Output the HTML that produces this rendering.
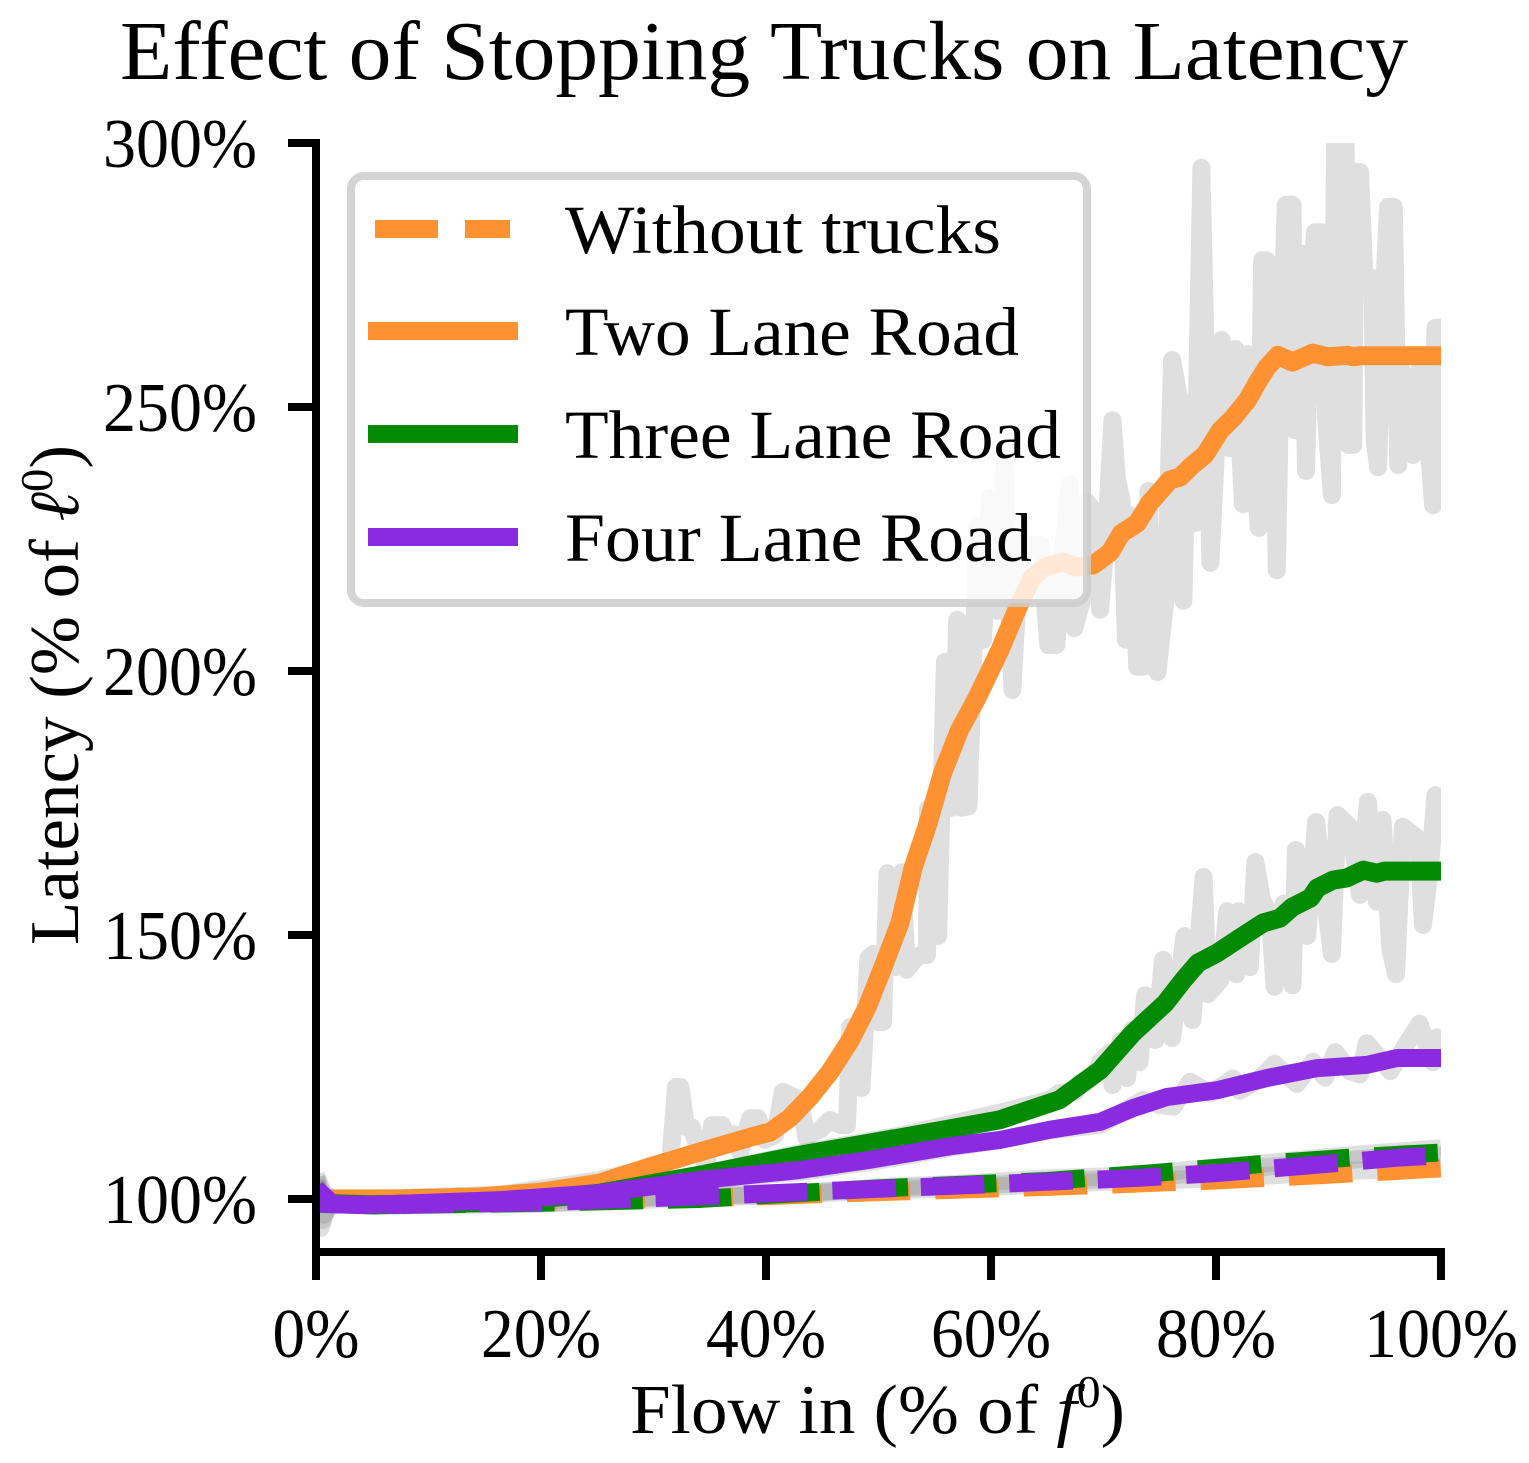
<!DOCTYPE html>
<html lang="en">
<head>
<meta charset="utf-8">
<title>Effect of Stopping Trucks on Latency</title>
<style>
html,body{margin:0;padding:0;background:#fff;}
svg{display:block;font-family:"Liberation Serif",serif;}
text{fill:#000;}
</style>
</head>
<body>
<svg id="chart" xmlns="http://www.w3.org/2000/svg" width="1529" height="1463" viewBox="0 0 1529 1463">
  <defs><clipPath id="plot-clip"><rect x="316" y="143" width="1125" height="1109"/></clipPath></defs>
  <rect x="0" y="0" width="1529" height="1463" fill="#fff"/>
  <text x="120" y="79" font-size="84" textLength="1288" lengthAdjust="spacingAndGlyphs">Effect of Stopping Trucks on Latency</text>
  <g id="raw-layer" clip-path="url(#plot-clip)"></g>
  <g id="mean-layer" clip-path="url(#plot-clip)"></g>
  <g id="axis-layer"></g>
  <text transform="translate(78,945) rotate(-90)" font-size="70" textLength="500" lengthAdjust="spacingAndGlyphs">Latency (% of <tspan font-style="italic">ℓ</tspan><tspan font-size="46" dy="-26">0</tspan><tspan dy="26">)</tspan></text>
  <text x="630" y="1433" font-size="70" textLength="495" lengthAdjust="spacingAndGlyphs">Flow in (% of <tspan font-style="italic">f</tspan><tspan font-size="46" dy="-26">0</tspan><tspan dy="26">)</tspan></text>
  <g>
    <rect x="351" y="176" width="736" height="427" rx="13" ry="13" fill="rgba(255,255,255,0.8)" stroke="rgba(204,204,204,0.85)" stroke-width="8"/>
    <line x1="375" y1="229" x2="510" y2="229" stroke="#fe9232" stroke-width="18" stroke-dasharray="63 27"/>
    <line x1="368" y1="331" x2="518" y2="331" stroke="#fe9232" stroke-width="18"/>
    <line x1="368" y1="434" x2="518" y2="434" stroke="#048b04" stroke-width="18"/>
    <line x1="368" y1="537" x2="518" y2="537" stroke="#8a2be2" stroke-width="18"/>
    <text x="565" y="253" font-size="69" textLength="436" lengthAdjust="spacingAndGlyphs">Without trucks</text>
    <text x="565" y="355" font-size="69" textLength="454" lengthAdjust="spacingAndGlyphs">Two Lane Road</text>
    <text x="565" y="458" font-size="69" textLength="496" lengthAdjust="spacingAndGlyphs">Three Lane Road</text>
    <text x="565" y="561" font-size="69" textLength="467" lengthAdjust="spacingAndGlyphs">Four Lane Road</text>
  </g>
</svg>
<script>
const xTickValues = [0, 20, 40, 60, 80, 100];
const xTickLabels = ["0%", "20%", "40%", "60%", "80%", "100%"];
const yTickValues = [100, 150, 200, 250, 300];
const yTickLabels = ["100%", "150%", "200%", "250%", "300%"];

const twoLaneFlow = [0,7.5,14.6,20,25.2,29.7,34.1,38.6,40.4,42.1,43.9,45.7,47.5,49,50.4,51.9,53.1,54.3,55.7,57.2,58.8,60.8,62.3,63.7,64.8,66.4,67.6,69.1,70.6,71.6,73,74.1,75.9,76.8,77.9,79,80.4,81.5,82.8,83.7,84.5,85.5,86.8,88.6,89.9,91.7,92.2,92.8,100];
const twoLaneLatency = [100,100,100.4,101.3,103,106.1,108.9,111.7,112.7,115.3,119.3,124.1,130.1,136.4,143.9,152.3,162.9,170.5,180.7,188.8,195.1,204,211.6,217.8,219.7,220.6,219.7,220.1,222.5,226.1,228,231.8,236.2,236.7,239,240.9,245.6,247.9,251.3,254.7,257.4,259.8,258.5,260.2,259.5,259.8,259.5,259.7,259.7];
const threeLaneFlow = [0,4.8,16.4,25.2,34.1,43,51.9,60.8,66.1,69.7,72.6,75.5,77.1,78.4,80.1,82.1,84.2,85.7,86.8,88.4,89,90.4,91.6,93.1,94.3,95,100];
const threeLaneLatency = [99.2,98.9,99.4,101.1,104.5,108.3,111.6,115,118.8,124.4,131.4,137.1,141.5,144.7,146.6,149.4,152.3,153.2,155.3,157,158.9,160.4,160.8,162.3,161.7,162.1,162.1];
const fourLaneFlow = [0,1.5,4.8,7.5,16.4,25.2,34.1,43,49.2,56.4,60.8,65.2,69.7,72.6,75.6,80.1,84.5,89,93.4,96.1,100];
const fourLaneLatency = [99.2,99,98.9,99.1,99.8,101.1,103.6,105.5,107.4,110,111.2,113.1,114.6,117.2,119.3,120.6,122.9,124.8,125.4,126.7,126.7];

const baseFlow = [0,1.5,5,20,34,50,65,80,90,100];
const baseLatency = [99.8,99.4,99,99.5,100.1,101.3,102.3,103.5,104.6,105.8];
const threeBaseFlow = [0,1.5,5,20,34,50,65,75,85,93,100];
const threeBaseLatency = [99.5,99.2,98.8,99.3,100,102,103.4,105,106.8,108,108.8];
const fourBaseFlow = [0,1.5,5,20,34,45,60,73,80,88,96,100];
const fourBaseLatency = [102,99,98.8,99.4,100.5,101.5,102.8,104,104.9,106.3,107.8,108.3];

const twoLaneRawFlow = [0,0.4,1.2,2.1,7.5,16.4,25.2,30.6,31.5,32,32.4,32.9,33.4,34,34.7,35.2,36.1,36.6,37.1,37.7,38.6,39.3,39.9,40.8,41.5,42.1,43,43.6,44.1,44.8,45.7,46.6,47.2,47.5,47.9,48.5,49.1,49.5,50,50.4,50.8,51.5,52.1,52.5,53.2,53.7,54.3,54.4,55,55.3,55.9,56.2,56.5,57,57.4,58,58.8,59.3,59.9,60.6,61.2,61.9,62.6,63.5,64.4,65.1,65.8,66.3,67,67.4,68.1,68.5,69.4,69.7,70.2,70.8,71.2,71.6,72,72.4,73,73.5,74,74.3,74.8,75.5,76.1,76.8,77.1,77.5,78.1,78.7,79.5,80.5,81.2,81.7,82.4,82.8,83.8,84.1,84.5,84.8,85.2,85.4,85.7,86,86.2,86.8,87,87.4,87.7,88,88.4,88.8,89.4,89.8,90.3,90.6,91.5,91.8,92.2,92.4,92.8,93.2,93.9,94.1,94.4,94.9,95.3,95.8,96.2,96.5,96.9,97.5,98.1,98.6,99.3,99.5,100];
const twoLaneRawLatency = [103.6,94.5,100.2,100,100.2,100.8,103.6,106.4,107.4,121.2,121.2,113.6,113.6,109.3,106.4,114,114,111.2,112.3,108.9,115.3,115.3,111.2,112.1,120.3,119.7,118.8,111.6,112.5,113.1,115,114,114,132.6,132.6,121,145.6,146.4,133.5,133.5,161.7,143.9,161.9,143.4,145.3,146.2,146.2,173.9,149.8,149.8,201.7,201.7,174.1,209.7,174.1,174.4,227.3,205.9,232.8,211.4,239,196.4,223.9,223.9,223.9,204.9,204.9,221,235.4,208.1,213.4,232,229.5,211.6,224.8,247.5,236.2,232.4,205.9,229.5,200.8,200.8,234.1,202.1,199.8,213.4,258.9,250.6,213.3,250.6,228,295.3,220.5,262.7,242.2,261,231.6,260,227.1,277.8,277.8,274.6,247.5,219.1,251.3,274.6,288.3,288.3,245.6,279,279,237.9,270.3,283.1,283.1,247.5,233.3,304.4,304.4,242.8,242.8,294.5,294.5,274.4,274.4,243.8,238.6,270.3,287.9,287.9,239,257,251.3,240.9,257,251.3,231.4,265,265];
const threeLaneRawFlow = [0,0.6,1.2,2,7.5,16.4,25.2,34.1,43,51.9,61.1,65.2,66.1,67.5,67.9,69.2,69.7,70.6,70.8,71.5,72.1,72.5,73.2,73.7,74.6,75.3,76.1,77.2,77.9,78.9,79.3,80.4,81,81.8,82,83,83.5,84.1,84.8,85.2,86,86.8,87.1,88.1,88.9,89.7,90.3,90.8,91.9,92.8,93.5,94.3,94.8,95.5,96,96.6,98,98.4,99,99.5,100];
const threeLaneRawLatency = [103,96,99.8,99,98.9,99.4,101.1,104.5,108.7,112,116.5,118.8,120.1,120.3,122,123.5,125.9,127.8,121.6,129.9,122.9,132,125.9,138.6,130.1,145.3,130.5,149.8,133.9,161,138.8,141.5,154.5,142.6,154.5,143.9,163.8,156.6,153.8,140.2,155.9,140.5,166.1,149.8,171.4,156.6,146.4,172.7,170.5,157.6,175.2,156.3,171.8,147.2,142.6,170.5,168.2,151.9,162.3,176.5,175.6];
const fourLaneRawFlow = [0,0.8,1.5,7.5,16.4,25.2,34.1,43,49.2,56.4,60.8,65.2,69.7,73.5,75,76.2,77.7,79.5,81.5,82.1,83.7,85.2,87.2,88.6,89.7,90.6,91.9,92.8,93.4,95.5,96.8,98.1,99.3,99.6,100];
const fourLaneRawLatency = [104,100,99.6,98.9,99.8,101.1,103.6,105.1,107,109.7,111.2,113,114,118.8,117.8,117.5,122.2,120,122.8,120.5,122.4,125.6,121.8,126,123,127.8,124.2,123.6,129.5,124.2,128.9,133.2,125.9,130.6,129.7];
const baseRawFlow = [0,0.7,1.5,5,20,34,42,50,58,65,72,80,86,90,95,100];
const baseRawLatency = [104.5,101,100,99,99.8,100.6,100.8,101.6,102.1,102.8,103.4,103.9,104.6,105.3,105.5,106.2];
const threeBaseRawFlow = [0,0.7,1.5,5,20,34,42,50,58,65,72,77,85,90,95,100];
const threeBaseRawLatency = [104,97,99.5,98.8,99.1,100.2,100.8,102.2,103,103.9,104.4,105.4,106.9,108,108.8,109.6];
const fourBaseRawFlow = [0,0.7,1.5,5,20,34,42,50,58,65,72,80,85,90,94,97,100];
const fourBaseRawLatency = [103,100,99.1,98.7,99.2,100.7,101.1,102,102.5,103.2,104,105,106.2,107,107.8,108.6,108.2];

const SVG_NS = "http://www.w3.org/2000/svg";
function xAxis(flow) { return 316 + flow * 11.25; }
function yAxis(latency) { return 1199 - (latency - 100) * 5.28; }
function pathFrom(flows, latencies) {
  return flows.map(function (f, i) {
    return (i ? "L" : "M") + xAxis(f).toFixed(1) + " " + yAxis(latencies[i]).toFixed(1);
  }).join("");
}
function drawSeries(layer, name, flows, latencies, color, opacity, width, dash, dashOffset) {
  const p = document.createElementNS(SVG_NS, "path");
  p.setAttribute("d", pathFrom(flows, latencies));
  p.setAttribute("fill", "none");
  p.setAttribute("stroke", color);
  p.setAttribute("stroke-width", width);
  p.setAttribute("stroke-linejoin", "round");
  p.setAttribute("stroke-opacity", opacity);
  if (dash) {
    p.setAttribute("stroke-dasharray", dash);
    p.setAttribute("stroke-dashoffset", dashOffset);
  }
  
  
  layer.appendChild(p);
}
function drawRect(layer, name, x, y, w, h) {
  const r = document.createElementNS(SVG_NS, "rect");
  r.setAttribute("x", x);
  r.setAttribute("y", y);
  r.setAttribute("width", w);
  r.setAttribute("height", h);
  r.setAttribute("fill", "#000");
  
  
  layer.appendChild(r);
}
function labelWidth(label) {
  return label.length === 2 ? 87 : label.length === 3 ? 120 : 154;
}
function drawLabel(layer, name, x, y, anchor, label) {
  const t = document.createElementNS(SVG_NS, "text");
  t.setAttribute("x", x);
  t.setAttribute("y", y);
  t.setAttribute("font-size", "70");
  t.setAttribute("text-anchor", anchor);
  t.setAttribute("textLength", labelWidth(label));
  t.setAttribute("lengthAdjust", "spacingAndGlyphs");
  
  
  t.textContent = label;
  layer.appendChild(t);
}

const rawLayer = document.getElementById("raw-layer");
const meanLayer = document.getElementById("mean-layer");
const axisLayer = document.getElementById("axis-layer");

drawSeries(rawLayer, "raw-without-trucks-two-lane", baseRawFlow, baseRawLatency, "#808080", "0.25", "18");
drawSeries(rawLayer, "raw-two-lane", twoLaneRawFlow, twoLaneRawLatency, "#808080", "0.25", "18");
drawSeries(rawLayer, "raw-without-trucks-three-lane", threeBaseRawFlow, threeBaseRawLatency, "#808080", "0.25", "18");
drawSeries(rawLayer, "raw-three-lane", threeLaneRawFlow, threeLaneRawLatency, "#808080", "0.25", "18");
drawSeries(rawLayer, "raw-without-trucks-four-lane", fourBaseRawFlow, fourBaseRawLatency, "#808080", "0.25", "18");
drawSeries(rawLayer, "raw-four-lane", fourLaneRawFlow, fourLaneRawLatency, "#808080", "0.25", "18");

drawSeries(meanLayer, "without-trucks-two-lane-line", baseFlow, baseLatency, "#fe9232", "1", "18", "63.5 25", "0");
drawSeries(meanLayer, "two-lane-line", twoLaneFlow, twoLaneLatency, "#fe9232", "1", "19");
drawSeries(meanLayer, "without-trucks-three-lane-line", threeBaseFlow, threeBaseLatency, "#048b04", "1", "18", "63.5 25", "2");
drawSeries(meanLayer, "three-lane-line", threeLaneFlow, threeLaneLatency, "#048b04", "1", "19");
drawSeries(meanLayer, "without-trucks-four-lane-line", fourBaseFlow, fourBaseLatency, "#8a2be2", "1", "18", "63.5 25", "8");
drawSeries(meanLayer, "four-lane-line", fourLaneFlow, fourLaneLatency, "#8a2be2", "1", "18");

drawRect(axisLayer, "y-axis-spine", 312, 139, 8, 1141);
drawRect(axisLayer, "x-axis-spine", 312, 1248, 1133, 8);
yTickValues.forEach(function (v, i) {
  drawRect(axisLayer, "y-tick", 288, yAxis(v) - 4, 28, 8);
  drawLabel(axisLayer, "y-tick-label", 257, yAxis(v) + 24, "end", yTickLabels[i]);
});
xTickValues.forEach(function (v, i) {
  drawRect(axisLayer, "x-tick", xAxis(v) - 4, 1252, 8, 28);
  drawLabel(axisLayer, "x-tick-label", xAxis(v), 1357, "middle", xTickLabels[i]);
});
</script>
</body>
</html>
